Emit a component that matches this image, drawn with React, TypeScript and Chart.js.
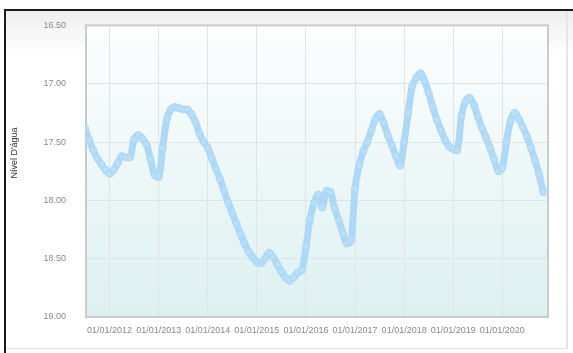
import { useEffect, useRef } from "react";
import { Chart, registerables } from "chart.js";

Chart.register(...registerables);

// Axis ticks
const yTickValues = [16.5, 17.0, 17.5, 18.0, 18.5, 19.0];
const xTickYears = [2012, 2013, 2014, 2015, 2016, 2017, 2018, 2019, 2020];
const xTickLabels = xTickYears.map((y) => `01/01/${y}`);
const yAxisTitle = "Nível D'água";

// Monthly water level readings (m), first month of 2011 series is July
const firstMonth2011 = 6; // July (0-based)
const level2011 = [17.38, 17.48, 17.57, 17.64, 17.69, 17.74];
const level2012 = [17.77, 17.74, 17.68, 17.62, 17.63, 17.63, 17.48, 17.44, 17.47, 17.52, 17.65, 17.78];
const level2013 = [17.8, 17.55, 17.3, 17.22, 17.2, 17.21, 17.22, 17.22, 17.26, 17.33, 17.43, 17.5];
const level2014 = [17.55, 17.64, 17.73, 17.82, 17.92, 18.02, 18.11, 18.2, 18.29, 18.37, 18.44, 18.49];
const level2015 = [18.53, 18.54, 18.5, 18.45, 18.49, 18.55, 18.61, 18.66, 18.69, 18.66, 18.62, 18.6];
const level2016 = [18.4, 18.16, 18.02, 17.95, 18.06, 17.92, 17.93, 18.07, 18.17, 18.28, 18.37, 18.35];
const level2017 = [17.9, 17.7, 17.58, 17.5, 17.4, 17.3, 17.26, 17.34, 17.44, 17.53, 17.62, 17.7];
const level2018 = [17.5, 17.25, 17.02, 16.95, 16.91, 16.98, 17.08, 17.2, 17.31, 17.4, 17.48, 17.54];
const level2019 = [17.56, 17.57, 17.28, 17.15, 17.12, 17.18, 17.28, 17.38, 17.46, 17.55, 17.65, 17.75];
const level2020 = [17.72, 17.5, 17.32, 17.25, 17.3, 17.37, 17.45, 17.55, 17.66, 17.78, 17.93];

const seriesByYear: [number, number, number[]][] = [
  [2011, firstMonth2011, level2011],
  [2012, 0, level2012],
  [2013, 0, level2013],
  [2014, 0, level2014],
  [2015, 0, level2015],
  [2016, 0, level2016],
  [2017, 0, level2017],
  [2018, 0, level2018],
  [2019, 0, level2019],
  [2020, 0, level2020],
];

const points = seriesByYear.flatMap(([year, start, vals]) =>
  vals.map((v, i) => ({ x: year + (start + i) / 12, y: v }))
);

const decorPlugin = {
  id: "decor",
  beforeDraw(chart: any) {
    const { ctx, chartArea } = chart;
    const { left, top, right, bottom } = chartArea;
    const g = ctx.createLinearGradient(0, top, 0, bottom);
    g.addColorStop(0, "#fdfefe");
    g.addColorStop(1, "#ddf0f0");
    ctx.save();
    ctx.fillStyle = g;
    ctx.fillRect(left, top, right - left, bottom - top);
    ctx.restore();
  },
  beforeDatasetsDraw(chart: any) {
    const { ctx, chartArea } = chart;
    const { left, top, right, bottom } = chartArea;
    ctx.save();
    ctx.strokeStyle = "#c8cccc";
    ctx.lineWidth = 2;
    ctx.strokeRect(left, top, right - left, bottom - top);
    ctx.restore();
  },
  afterDraw(chart: any) {
    const { ctx } = chart;
    ctx.save();
    ctx.translate(15, 153);
    ctx.rotate(-Math.PI / 2);
    ctx.fillStyle = "#333";
    ctx.font = "9px Arial, 'Liberation Sans', sans-serif";
    ctx.textAlign = "center";
    ctx.textBaseline = "middle";
    ctx.fillText(yAxisTitle, 0, 0);
    ctx.restore();
  },
};

export default function App() {
  const ref = useRef<HTMLCanvasElement>(null);
  useEffect(() => {
    if (!ref.current) return;
    const chart = new Chart(ref.current, {
      type: "line",
      data: {
        datasets: [
          {
            data: points,
            borderColor: "rgba(170, 214, 246, 0.95)",
            backgroundColor: "rgba(180, 220, 248, 0.95)",
            pointBorderColor: "rgba(170, 214, 246, 0.95)",
            pointBackgroundColor: "rgba(185, 222, 248, 0.95)",
            borderWidth: 7,
            pointRadius: 3.5,
            pointBorderWidth: 1,
            tension: 0.35,
            fill: false,
          },
        ],
      },
      options: {
        responsive: false,
        animation: false,
        devicePixelRatio: 1,
        layout: { padding: { left: 0, top: 21, right: 25, bottom: 0 } },
        plugins: { legend: { display: false }, tooltip: { enabled: false } },
        scales: {
          x: {
            type: "linear",
            min: 2011.52,
            max: 2020.93,
            afterBuildTicks: (axis: any) => {
              axis.ticks = xTickYears.map((v) => ({ value: v }));
            },
            afterFit: (axis: any) => {
              axis.height = 36;
            },
            grid: { color: "#dfe4e4", lineWidth: 1, drawTicks: false },
            border: { display: false },
            ticks: {
              padding: 8,
              maxRotation: 0,
              autoSkip: false,
              color: "#888",
              font: { size: 9, family: "Arial, 'Liberation Sans', sans-serif" },
              callback: (v: any) => {
                const i = xTickYears.indexOf(Number(v));
                return i >= 0 ? xTickLabels[i] : "";
              },
            },
          },
          y: {
            type: "linear",
            reverse: true,
            min: 16.5,
            max: 19,
            afterBuildTicks: (axis: any) => {
              axis.ticks = yTickValues.map((v) => ({ value: v }));
            },
            afterFit: (axis: any) => {
              axis.width = 86;
            },
            grid: { color: "#dfe4e4", lineWidth: 1, drawTicks: false },
            border: { display: false },
            ticks: {
              padding: 20,
              color: "#888",
              font: { size: 9, family: "Arial, 'Liberation Sans', sans-serif" },
              callback: (v: any) => Number(v).toFixed(2),
            },
          },
        },
      },
      plugins: [decorPlugin],
    });
    return () => chart.destroy();
  }, []);

  return (
    <div style={{ position: "absolute", left: 0, top: 0, width: 573, height: 353, background: "#fff" }}>
      <div
        style={{
          position: "absolute",
          left: 4,
          top: 9,
          width: 569,
          height: 344,
          borderTop: "2px solid #1a1a1a",
          borderLeft: "2px solid #1a1a1a",
          background: "linear-gradient(#eeeeee 0px, #ffffff 45px)",
        }}
      />
      <div
        style={{
          position: "absolute",
          left: 6,
          top: 11,
          width: 560,
          height: 337,
          borderRight: "2px solid #e6e6e6",
          borderBottom: "1px solid #e2e2e2",
        }}
      />
      <canvas
        ref={ref}
        width={573}
        height={353}
        style={{ position: "absolute", left: 0, top: 0, width: 573, height: 353 }}
      />
    </div>
  );
}
